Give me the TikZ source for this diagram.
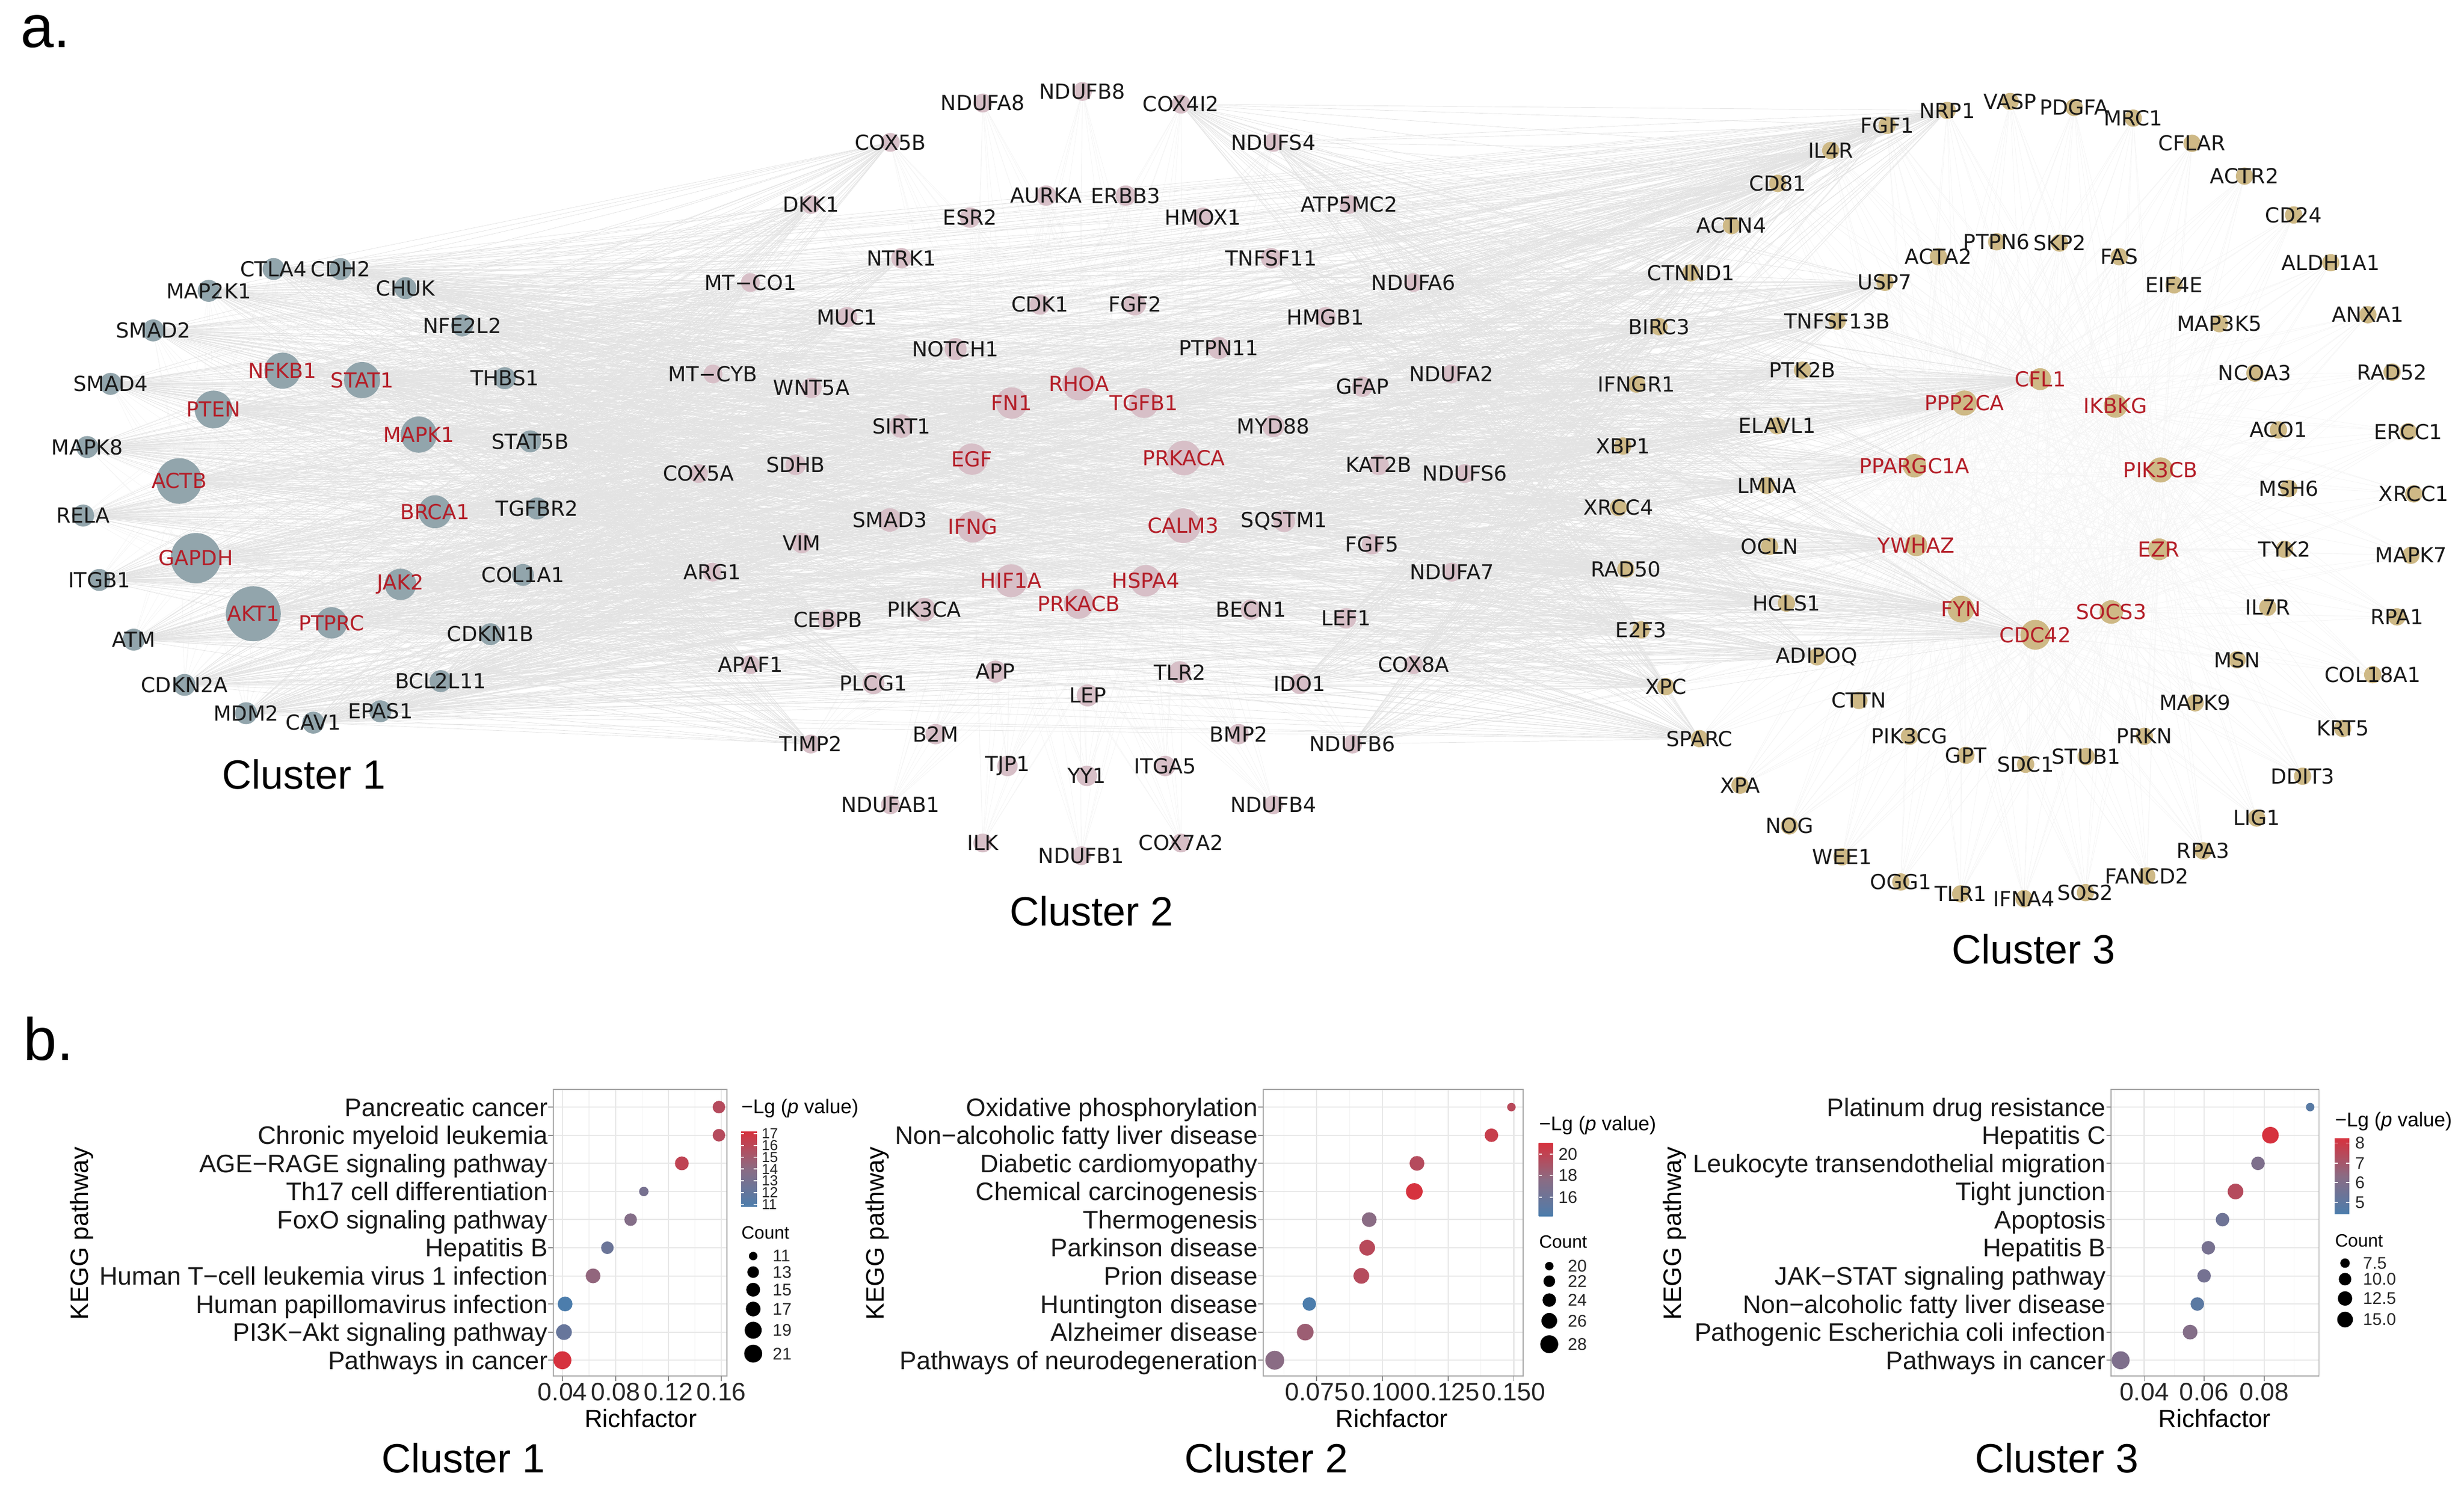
\documentclass[tikz,border=0pt]{standalone}
\usepackage{fontspec}
\setmainfont{Liberation Sans}
\newfontfamily\gfont{DejaVu Sans}
\pgfdeclarelayer{bg}
\pgfdeclarelayer{fg}
\pgfsetlayers{bg,main,fg}
\definecolor{c1col}{RGB}{146,165,172}
\definecolor{c2col}{RGB}{215,191,199}
\definecolor{c3col}{RGB}{206,185,134}
\definecolor{redlab}{RGB}{180,30,40}
\definecolor{lo}{RGB}{76,125,172}
\definecolor{mid}{RGB}{138,108,132}
\definecolor{hi}{RGB}{214,50,62}
\def\uu{0.027691cm}
\tikzset{
 e1/.style={draw=black!11, line width=0.2pt},
 e2/.style={draw=black!4.5, line width=0.18pt},
 c1/.style={circle, fill=c1col, inner sep=0pt, draw=none},
 c2/.style={circle, fill=c2col, inner sep=0pt, draw=none},
 c3/.style={circle, fill=c3col, inner sep=0pt, draw=none},
 glab/.style={font=\gfont\fontsize{10.4}{12}\selectfont, inner sep=0pt, text=black!90},
 rlab/.style={glab, text=redlab},
 ctitle/.style={font=\fontsize{20.5}{24}\selectfont, inner sep=0pt},
 rowlab/.style={anchor=east, font=\fontsize{12.7}{14}\selectfont, inner sep=0pt, text height=9.1pt, text depth=0pt, text=black!90},
 ticklab/.style={font=\fontsize{12.7}{14}\selectfont, inner sep=0pt, text=black!85},
 axlab/.style={font=\fontsize{12.5}{14}\selectfont, inner sep=0pt},
 kegg/.style={font=\fontsize{12.6}{14}\selectfont, rotate=90, inner sep=0pt},
 legt/.style={anchor=west, font=\fontsize{10}{12}\selectfont, inner sep=0pt},
 legc/.style={anchor=west, font=\fontsize{9}{11}\selectfont, inner sep=0pt},
 legn/.style={anchor=west, font=\fontsize{8.5}{10}\selectfont, inner sep=0pt, text=black!85},
 legs/.style={anchor=west, font=\fontsize{7.3}{8}\selectfont, inner sep=0pt, text=black!85},
 gridmaj/.style={draw=black!9, line width=0.6pt},
 gridmin/.style={draw=black!5, line width=0.3pt},
 panelb/.style={draw=black!35, line width=0.5pt},
 tk/.style={draw=black!45, line width=0.5pt},
 wtk/.style={draw=white, line width=0.5pt},
 plabel/.style={font=\fontsize{30}{34}\selectfont, inner sep=0pt},
}
\newcommand\GX[7]{\node[#5,minimum size={2*#4*\uu}] (#1) at (#2,#3) {};\begin{pgfonlayer}{fg}\node[#6] (#1t) at (#2,#3) {#7};\end{pgfonlayer}}
\newcommand\GN[5]{\GX{#1}{#2}{#3}{#4}{#5}{glab}{#1}}
\newcommand\GR[5]{\GX{#1}{#2}{#3}{#4}{#5}{rlab}{#1}}
\newcommand\dotcol[1]{\ifnum#1<50 \edef\tmpn{\the\numexpr2*#1\relax}\colorlet{dc}{mid!\tmpn!lo}\else\edef\tmpn{\the\numexpr2*#1-100\relax}\colorlet{dc}{hi!\tmpn!mid}\fi}
\newcommand\kdot[4]{\dotcol{#4}\fill[dc] (#1,{704.6+17.9*#2}) circle[radius={#3*\uu}];}
\newcommand\kpanel[4]{%
 \fill[white] (#1,693.4) rectangle (#2,875.8);
 \foreach \x in {#4} \draw[gridmin] (\x,693.4) -- (\x,875.8);
 \foreach \x in {#3} \draw[gridmaj] (\x,693.4) -- (\x,875.8);
 \foreach \k in {0,...,9} \draw[gridmaj] (#1,{704.6+17.9*\k}) -- (#2,{704.6+17.9*\k});
 \draw[panelb] (#1,693.4) rectangle (#2,875.8);
 \foreach \x in {#3} \draw[tk] (\x,875.8) -- (\x,879.0);
 \foreach \k in {0,...,9} \draw[tk] ({#1-3.2},{704.6+17.9*\k}) -- (#1,{704.6+17.9*\k});
}
\def\Cone{CTLA4,CDH2,MAP2K1,CHUK,SMAD2,NFE2L2,SMAD4,NFKB1,STAT1,THBS1,PTEN,MAPK8,MAPK1,STAT5B,ACTB,RELA,BRCA1,TGFBR2,GAPDH,ITGB1,JAK2,COL1A1,AKT1,PTPRC,ATM,CDKN1B,CDKN2A,BCL2L11,MDM2,CAV1,EPAS1}
\def\ConeR{NFKB1,STAT1,PTEN,MAPK1,ACTB,BRCA1,GAPDH,JAK2,AKT1,PTPRC}
\def\ConeN{CTLA4,CDH2,MAP2K1,CHUK,SMAD2,NFE2L2,SMAD4,THBS1,MAPK8,STAT5B,RELA,TGFBR2,ITGB1,COL1A1,ATM,CDKN1B,CDKN2A,BCL2L11,MDM2,CAV1,EPAS1}
\def\CtwoL{COX5A,MTCYB,MTCO1,ARG1,APAF1,DKK1,SDHB,WNT5A,VIM,CEBPB,MUC1,TIMP2,COX5B,NTRK1,SIRT1,SMAD3,PLCG1,NOTCH1,EGF,IFNG,FN1,HIF1A,RHOA,PIK3CA}
\def\CtwoR{NDUFA6,NDUFA2,NDUFS6,NDUFA7,COX8A,ATP5MC2,HMGB1,GFAP,KAT2B,FGF5,LEF1,NDUFS4,TNFSF11,MYD88,SQSTM1,IDO1,NDUFB6,PRKACA,CALM3,TGFB1,HSPA4,COX4I2}
\def\CtwoRed{RHOA,FN1,TGFB1,EGF,PRKACA,IFNG,CALM3,HIF1A,HSPA4,PRKACB}
\def\CtwoN{NDUFA8,NDUFB8,COX4I2,COX5B,NDUFS4,DKK1,AURKA,ERBB3,ESR2,HMOX1,ATP5MC2,NTRK1,TNFSF11,MTCO1,CDK1,FGF2,NDUFA6,MUC1,HMGB1,NOTCH1,PTPN11,MTCYB,WNT5A,GFAP,NDUFA2,SIRT1,MYD88,SDHB,KAT2B,NDUFS6,COX5A,SMAD3,SQSTM1,VIM,FGF5,ARG1,NDUFA7,CEBPB,PIK3CA,BECN1,LEF1,APAF1,PLCG1,APP,TLR2,IDO1,COX8A,LEP,TIMP2,B2M,BMP2,NDUFB6,TJP1,YY1,ITGA5,NDUFAB1,NDUFB4,ILK,NDUFB1,COX7A2}
\def\CthreeL{IFNGR1,XBP1,XRCC4,RAD50,E2F3,BIRC3,CTNND1,ACTN4,CD81,IL4R,FGF1,NRP1,XPC,SPARC,ELAVL1,LMNA,OCLN,HCLS1,PTK2B,TNFSF13B,USP7,ADIPOQ,PPARGC1A,YWHAZ,PPP2CA,FYN,CDC42,CFL1}
\def\CthreeRed{CFL1,PPP2CA,IKBKG,PPARGC1A,PIK3CB,YWHAZ,EZR,FYN,SOCS3,CDC42}
\def\CthreeN{FGF1,NRP1,VASP,PDGFA,MRC1,CFLAR,IL4R,ACTR2,CD81,CD24,ACTN4,PTPN6,SKP2,ACTA2,FAS,ALDH1A1,CTNND1,USP7,EIF4E,ANXA1,TNFSF13B,MAP3K5,BIRC3,PTK2B,NCOA3,RAD52,IFNGR1,ELAVL1,ACO1,ERCC1,XBP1,LMNA,MSH6,XRCC1,XRCC4,OCLN,TYK2,MAPK7,RAD50,HCLS1,IL7R,RPA1,E2F3,ADIPOQ,MSN,COL18A1,XPC,CTTN,MAPK9,KRT5,SPARC,PIK3CG,PRKN,GPT,STUB1,SDC1,DDIT3,XPA,LIG1,NOG,RPA3,WEE1,FANCD2,OGG1,TLR1,SOS2,IFNA4}
\begin{document}
\begin{tikzpicture}[x=0.027691cm,y=-0.027691cm]
\begin{pgfonlayer}{bg}
\fill[white] (0,0) rectangle (1568,950.5);
\end{pgfonlayer}
\useasboundingbox (0,0) rectangle (1568,950.5);
% ---------------- Cluster 1
\GN{CTLA4}{174.1}{171.2}{7}{c1}
\GN{CDH2}{216.7}{171.2}{7}{c1}
\GN{MAP2K1}{132.8}{185.1}{7}{c1}
\GN{CHUK}{258.0}{183.4}{7}{c1}
\GN{SMAD2}{97.5}{210.3}{7}{c1}
\GN{NFE2L2}{294.1}{207.1}{7}{c1}
\GN{SMAD4}{70.4}{244.3}{7}{c1}
\GR{NFKB1}{179.8}{235.9}{11.5}{c1}
\GR{STAT1}{230.4}{241.9}{11.5}{c1}
\GN{THBS1}{321.2}{240.7}{7}{c1}
\GR{PTEN}{135.9}{260.6}{12}{c1}
\GN{MAPK8}{55.5}{284.5}{7}{c1}
\GR{MAPK1}{266.5}{276.6}{11.5}{c1}
\GN{STAT5B}{337.4}{280.9}{7}{c1}
\GR{ACTB}{114.0}{306.1}{14.5}{c1}
\GN{RELA}{52.9}{328.1}{7}{c1}
\GR{BRCA1}{276.8}{325.7}{10.5}{c1}
\GN{TGFBR2}{341.8}{323.6}{7}{c1}
\GR{GAPDH}{124.6}{355.2}{16}{c1}
\GN{ITGB1}{63.2}{369.1}{7}{c1}
\GR{JAK2}{254.9}{371.9}{10}{c1}
\GN{COL1A1}{332.8}{365.9}{7}{c1}
\GR{AKT1}{161.2}{390.6}{17.5}{c1}
\GR{PTPRC}{211.0}{396.4}{10}{c1}
\GN{ATM}{85.1}{407.1}{7}{c1}
\GN{CDKN1B}{312.1}{403.6}{7}{c1}
\GN{CDKN2A}{117.4}{435.9}{7}{c1}
\GN{BCL2L11}{280.4}{433.5}{7}{c1}
\GN{MDM2}{156.6}{453.9}{7}{c1}
\GN{CAV1}{199.4}{459.9}{7}{c1}
\GN{EPAS1}{242.0}{452.7}{7}{c1}
\node[ctitle] (title1) at (193.5,492.9) {Cluster 1};
% ---------------- Cluster 2
\GN{NDUFA8}{625.4}{65.6}{6}{c2}
\GN{NDUFB8}{688.8}{58.2}{6}{c2}
\GN{COX4I2}{751.5}{66.3}{6}{c2}
\GN{COX5B}{566.6}{90.6}{6}{c2}
\GN{NDUFS4}{810.3}{90.6}{6}{c2}
\GN{DKK1}{516.0}{130.1}{6}{c2}
\GN{AURKA}{665.7}{124.5}{6.5}{c2}
\GN{ERBB3}{716.4}{124.5}{6.5}{c2}
\GN{ESR2}{617.3}{138.5}{6.5}{c2}
\GN{HMOX1}{765.4}{138.5}{6.5}{c2}
\GN{ATP5MC2}{858.6}{130.1}{6}{c2}
\GN{NTRK1}{573.6}{164.3}{6.5}{c2}
\GN{TNFSF11}{808.9}{164.3}{6.5}{c2}
\GX{MTCO1}{477.5}{179.8}{6}{c2}{glab}{MT−CO1}
\GN{CDK1}{661.8}{193.8}{6.5}{c2}
\GN{FGF2}{722.2}{193.8}{7}{c2}
\GN{NDUFA6}{899.5}{179.8}{6}{c2}
\GN{MUC1}{539.0}{201.9}{6.5}{c2}
\GN{HMGB1}{843.5}{201.9}{6.5}{c2}
\GN{NOTCH1}{608.1}{222.2}{7}{c2}
\GN{PTPN11}{775.7}{221.5}{7}{c2}
\GX{MTCYB}{453.7}{238.0}{6}{c2}{glab}{MT−CYB}
\GN{WNT5A}{516.4}{246.9}{6.5}{c2}
\GR{RHOA}{686.5}{244.3}{10.5}{c2}
\GN{GFAP}{866.9}{246.1}{6.5}{c2}
\GN{NDUFA2}{923.5}{238.0}{6}{c2}
\GR{FN1}{643.8}{256.5}{10}{c2}
\GR{TGFB1}{727.9}{256.5}{9.5}{c2}
\GN{SIRT1}{573.6}{271.2}{7.5}{c2}
\GN{MYD88}{810.3}{271.2}{7}{c2}
\GN{SDHB}{506.3}{295.9}{6.5}{c2}
\GR{EGF}{618.5}{292.2}{10}{c2}
\GR{PRKACA}{753.3}{291.5}{11}{c2}
\GN{KAT2B}{877.3}{295.9}{6.5}{c2}
\GN{NDUFS6}{932.2}{301.4}{6}{c2}
\GN{COX5A}{444.5}{301.4}{6}{c2}
\GN{SMAD3}{566.2}{330.9}{7.5}{c2}
\GR{IFNG}{619.0}{335.3}{10}{c2}
\GR{CALM3}{752.9}{334.6}{11}{c2}
\GN{SQSTM1}{817.2}{331.6}{7}{c2}
\GN{VIM}{510.2}{345.6}{6.5}{c2}
\GN{FGF5}{873.1}{346.4}{6.5}{c2}
\GN{ARG1}{453.3}{364.1}{6}{c2}
\GR{HIF1A}{643.4}{369.6}{10.5}{c2}
\GR{HSPA4}{729.1}{369.6}{10}{c2}
\GN{NDUFA7}{923.9}{364.1}{6}{c2}
\GR{PRKACB}{686.5}{384.3}{9.5}{c2}
\GN{CEBPB}{526.8}{394.3}{6.5}{c2}
\GN{PIK3CA}{588.1}{388.0}{7.5}{c2}
\GN{BECN1}{796.0}{388.0}{6.5}{c2}
\GN{LEF1}{856.6}{393.5}{6.5}{c2}
\GN{APAF1}{477.5}{423.0}{6}{c2}
\GN{PLCG1}{555.8}{434.8}{7}{c2}
\GN{APP}{633.5}{427.4}{7}{c2}
\GN{TLR2}{750.8}{427.8}{7}{c2}
\GN{IDO1}{827.1}{435.2}{6.5}{c2}
\GN{COX8A}{899.5}{423.0}{6}{c2}
\GN{LEP}{692.2}{442.6}{7}{c2}
\GN{TIMP2}{516.0}{473.5}{6}{c2}
\GN{B2M}{595.4}{467.2}{6.5}{c2}
\GN{BMP2}{788.2}{467.2}{6.5}{c2}
\GN{NDUFB6}{860.7}{473.5}{6}{c2}
\GN{TJP1}{641.1}{487.5}{6.5}{c2}
\GN{YY1}{691.6}{493.8}{6.5}{c2}
\GN{ITGA5}{741.5}{487.5}{6.5}{c2}
\GN{NDUFAB1}{566.6}{512.2}{6}{c2}
\GN{NDUFB4}{810.3}{512.2}{6}{c2}
\GN{ILK}{625.4}{536.5}{6}{c2}
\GN{NDUFB1}{688.1}{544.6}{6}{c2}
\GN{COX7A2}{751.5}{536.5}{6}{c2}
\node[ctitle] (title2) at (694.5,579.7) {Cluster 2};
% ---------------- Cluster 3
\GN{FGF1}{1200.9}{79.8}{5.5}{c3}
\GN{NRP1}{1239.1}{70.3}{5.5}{c3}
\GN{VASP}{1279.2}{64.6}{5.5}{c3}
\GN{PDGFA}{1319.9}{68.4}{5.5}{c3}
\GN{MRC1}{1357.5}{75.2}{5.5}{c3}
\GN{CFLAR}{1394.9}{91.2}{5.5}{c3}
\GN{IL4R}{1165.0}{95.8}{5.5}{c3}
\GN{ACTR2}{1428.3}{112.1}{5.5}{c3}
\GN{CD81}{1131.3}{116.7}{5.5}{c3}
\GN{CD24}{1459.6}{136.8}{5.5}{c3}
\GN{ACTN4}{1101.8}{143.6}{5.5}{c3}
\GN{PTPN6}{1270.6}{153.9}{5.5}{c3}
\GN{SKP2}{1310.6}{154.7}{5.5}{c3}
\GN{ACTA2}{1233.5}{163.4}{5.5}{c3}
\GN{FAS}{1348.6}{163.4}{5.5}{c3}
\GN{ALDH1A1}{1483.2}{167.2}{5.5}{c3}
\GN{CTNND1}{1076.0}{173.7}{5.5}{c3}
\GN{USP7}{1199.5}{179.7}{5.5}{c3}
\GN{EIF4E}{1383.5}{181.3}{5.5}{c3}
\GN{ANXA1}{1506.8}{200.3}{5.5}{c3}
\GN{TNFSF13B}{1169.1}{204.4}{5.5}{c3}
\GN{MAP3K5}{1412.3}{206.0}{5.5}{c3}
\GN{BIRC3}{1055.7}{207.9}{5.5}{c3}
\GN{PTK2B}{1147.0}{235.6}{5.5}{c3}
\GN{NCOA3}{1434.9}{237.5}{5.5}{c3}
\GN{RAD52}{1522.2}{236.8}{5.5}{c3}
\GR{CFL1}{1298.3}{241.3}{7}{c3}
\GN{IFNGR1}{1041.4}{244.4}{5.5}{c3}
\GR{PPP2CA}{1250.1}{256.5}{8}{c3}
\GR{IKBKG}{1346.2}{258.4}{7.5}{c3}
\GN{ELAVL1}{1130.9}{271.0}{5.5}{c3}
\GN{ACO1}{1449.9}{273.6}{5.5}{c3}
\GN{ERCC1}{1532.5}{274.8}{5.5}{c3}
\GN{XBP1}{1032.7}{283.9}{5.5}{c3}
\GR{PPARGC1A}{1218.3}{296.4}{7.5}{c3}
\GR{PIK3CB}{1374.9}{299.1}{8}{c3}
\GN{LMNA}{1124.3}{309.0}{5.5}{c3}
\GN{MSH6}{1456.5}{310.9}{5.5}{c3}
\GN{XRCC1}{1536.0}{314.3}{5.5}{c3}
\GN{XRCC4}{1029.9}{323.0}{5.5}{c3}
\GN{OCLN}{1126.1}{347.7}{5.5}{c3}
\GR{YWHAZ}{1219.4}{347.0}{7}{c3}
\GR{EZR}{1373.9}{349.6}{7}{c3}
\GN{TYK2}{1453.8}{349.6}{5.5}{c3}
\GN{MAPK7}{1534.2}{353.4}{5.5}{c3}
\GN{RAD50}{1034.6}{362.2}{5.5}{c3}
\GN{HCLS1}{1136.8}{383.8}{5.5}{c3}
\GR{FYN}{1247.9}{387.6}{8.5}{c3}
\GR{SOCS3}{1343.5}{389.5}{7.5}{c3}
\GN{IL7R}{1443.1}{386.5}{5.5}{c3}
\GN{RPA1}{1525.3}{392.6}{5.5}{c3}
\GN{E2F3}{1044.3}{400.9}{5.5}{c3}
\GR{CDC42}{1295.2}{404.0}{9.5}{c3}
\GN{ADIPOQ}{1156.2}{418.0}{5.5}{c3}
\GN{MSN}{1423.6}{419.9}{5.5}{c3}
\GN{COL18A1}{1509.9}{429.4}{5.5}{c3}
\GN{XPC}{1060.0}{437.0}{5.5}{c3}
\GN{CTTN}{1182.9}{445.8}{5.5}{c3}
\GN{MAPK9}{1396.9}{447.3}{5.5}{c3}
\GN{KRT5}{1490.8}{463.6}{5.5}{c3}
\GN{SPARC}{1081.5}{470.1}{5.5}{c3}
\GN{PIK3CG}{1215.1}{468.6}{5.5}{c3}
\GN{PRKN}{1364.6}{468.6}{5.5}{c3}
\GN{GPT}{1251.0}{480.7}{5.5}{c3}
\GN{STUB1}{1327.5}{481.5}{5.5}{c3}
\GN{SDC1}{1289.0}{486.4}{5.5}{c3}
\GN{DDIT3}{1465.3}{494.0}{5.5}{c3}
\GN{XPA}{1107.3}{499.7}{5.5}{c3}
\GN{LIG1}{1436.0}{520.6}{5.5}{c3}
\GN{NOG}{1138.7}{525.6}{5.5}{c3}
\GN{RPA3}{1402.0}{541.5}{5.5}{c3}
\GN{WEE1}{1172.2}{545.3}{5.5}{c3}
\GN{FANCD2}{1366.1}{557.5}{5.5}{c3}
\GN{OGG1}{1209.6}{561.3}{5.5}{c3}
\GN{TLR1}{1247.7}{568.9}{5.5}{c3}
\GN{SOS2}{1327.1}{568.1}{5.5}{c3}
\GN{IFNA4}{1288.0}{571.9}{5.5}{c3}
\node[ctitle] (title3) at (1294.2,604.2) {Cluster 3};
% ---------------- edges
\begin{pgfonlayer}{bg}
\foreach \a in \CtwoRed {\foreach \b in \CtwoN {\draw[e2] (\a) -- (\b);}}
\foreach \a in \CthreeRed {\foreach \b in \CthreeN {\draw[e2] (\a) -- (\b);}}
\foreach \a in \ConeR {\foreach \b in \ConeN {\draw[e2] (\a) -- (\b);}}
\foreach \a in \Cone {\foreach \b in \CtwoL {\draw[e1] (\a) -- (\b);}}
\foreach \a in \Cone {\foreach \b in \CthreeL {\draw[e1] (\a) -- (\b);}}
\foreach \a in \CtwoR {\foreach \b in \CthreeL {\draw[e1] (\a) -- (\b);}}
\end{pgfonlayer}
% ---------------- panel labels
\node[plabel] (pa) at (29,20) {a.};
\node[plabel] (pb) at (31,661) {b.};
% ---------------- chart 1
\kpanel{352.2}{462.5}{358.0,391.7,425.4,459.1}{374.85,408.55,442.25}
\foreach \t [count=\i from 0] in {Pancreatic cancer,Chronic myeloid leukemia,AGE−RAGE signaling pathway,Th17 cell differentiation,FoxO signaling pathway,Hepatitis B,Human T−cell leukemia virus 1 infection,Human papillomavirus infection,PI3K−Akt signaling pathway,Pathways in cancer}
  \node[rowlab] (aL\i) at (348.8,{704.6+17.9*\i}) {\t};
\foreach \x/\t [count=\i] in {358.0/0.04,391.7/0.08,425.4/0.12,459.1/0.16}
  \node[ticklab] (aX\i) at (\x,886) {\t};
\kdot{457.5}{0}{4.0}{78}
\kdot{457.5}{1}{4.0}{78}
\kdot{433.9}{2}{4.4}{85}
\kdot{409.7}{3}{3.0}{35}
\kdot{401.3}{4}{4.0}{45}
\kdot{386.5}{5}{4.0}{25}
\kdot{377.4}{6}{4.7}{55}
\kdot{359.6}{7}{4.7}{0}
\kdot{358.9}{8}{5.0}{22}
\kdot{357.9}{9}{5.7}{100}
\node[axlab] (aR) at (407.7,902.7) {Richfactor};
\node[kegg] (aK) at (52.2,785) {KEGG pathway};
\node[legt] (aLT) at (471.6,705.5) {−Lg (\textit{p} value)};
\shade[bottom color=lo, top color=hi, middle color=mid] (471.6,720.1) rectangle (481.7,768.0);
\foreach \y/\t [count=\i] in {721.5/17,729/16,736.5/15,744/14,751.5/13,759/12,766.5/11}
  {\draw[wtk] (471.6,\y) -- (473.6,\y); \draw[wtk] (479.7,\y) -- (481.7,\y);
   \node[legs] (aB\i) at (484.5,\y) {\t};}
\node[legc] (aCT) at (471.6,784.4) {Count};
\foreach \y/\r/\t [count=\i] in {799.4/2.7/11,809.6/3.7/13,820.8/4.4/15,833.1/4.7/17,846.6/5.4/19,861.5/5.7/21}
  {\fill[black] (479.3,\y) circle[radius={\r*\uu}]; \node[legn] (aC\i) at (491.5,\y) {\t};}
% ---------------- chart 2
\kpanel{803.9}{969.2}{837.9,879.7,921.5,963.3}{817.0,858.8,900.6,942.4}
\foreach \t [count=\i from 0] in {Oxidative phosphorylation,Non−alcoholic fatty liver disease,Diabetic cardiomyopathy,Chemical carcinogenesis,Thermogenesis,Parkinson disease,Prion disease,Huntington disease,Alzheimer disease,Pathways of neurodegeneration}
  \node[rowlab] (bL\i) at (800.5,{704.6+17.9*\i}) {\t};
\foreach \x/\t [count=\i] in {837.9/0.075,879.7/0.100,921.5/0.125,963.3/0.150}
  \node[ticklab] (bX\i) at (\x,886) {\t};
\kdot{961.8}{0}{2.7}{80}
\kdot{949.1}{1}{4.3}{90}
\kdot{901.7}{2}{4.7}{78}
\kdot{900.0}{3}{5.3}{100}
\kdot{871.3}{4}{4.7}{50}
\kdot{870.0}{5}{5.0}{80}
\kdot{866.3}{6}{5.0}{78}
\kdot{833.2}{7}{4.3}{0}
\kdot{830.6}{8}{5.3}{62}
\kdot{811.2}{9}{6.0}{50}
\node[axlab] (bR) at (885.7,902.7) {Richfactor};
\node[kegg] (bK) at (558.4,785) {KEGG pathway};
\node[legt] (bLT) at (979.2,716.3) {−Lg (\textit{p} value)};
\shade[bottom color=lo, top color=hi, middle color=mid] (979.2,727.5) rectangle (988.2,774.0);
\foreach \y/\t [count=\i] in {734.6/20,748.1/18,762.0/16}
  {\draw[wtk] (979.2,\y) -- (981.2,\y); \draw[wtk] (986.2,\y) -- (988.2,\y);
   \node[legn] (bB\i) at (991.5,\y) {\t};}
\node[legc] (bCT) at (979.2,790.4) {Count};
\foreach \y/\r/\t [count=\i] in {805.8/2.7/20,815.4/3.7/22,827.4/4.3/24,840.6/5.0/26,855.5/5.7/28}
  {\fill[black] (985.9,\y) circle[radius={\r*\uu}]; \node[legn] (bC\i) at (997.5,\y) {\t};}
% ---------------- chart 3
\kpanel{1343.5}{1475.7}{1364.5,1402.6,1440.8}{1345.4,1383.6,1421.7,1459.9}
\foreach \t [count=\i from 0] in {Platinum drug resistance,Hepatitis C,Leukocyte transendothelial migration,Tight junction,Apoptosis,Hepatitis B,JAK−STAT signaling pathway,Non−alcoholic fatty liver disease,Pathogenic Escherichia coli infection,Pathways in cancer}
  \node[rowlab] (cL\i) at (1340.2,{704.6+17.9*\i}) {\t};
\foreach \x/\t [count=\i] in {1364.5/0.04,1402.6/0.06,1440.8/0.08}
  \node[ticklab] (cX\i) at (\x,886) {\t};
\kdot{1470.1}{0}{2.7}{10}
\kdot{1444.8}{1}{5.3}{100}
\kdot{1436.9}{2}{4.3}{40}
\kdot{1422.6}{3}{5.0}{78}
\kdot{1414.3}{4}{4.3}{28}
\kdot{1405.3}{5}{4.3}{35}
\kdot{1402.6}{6}{4.3}{33}
\kdot{1398.3}{7}{4.3}{12}
\kdot{1393.7}{8}{4.7}{45}
\kdot{1349.5}{9}{5.7}{40}
\node[axlab] (cR) at (1409.3,902.7) {Richfactor};
\node[kegg] (cK) at (1065.6,785) {KEGG pathway};
\node[legt] (cLT) at (1485.7,713.6) {−Lg (\textit{p} value)};
\shade[bottom color=lo, top color=hi, middle color=mid] (1485.7,724.6) rectangle (1495.0,772.5);
\foreach \y/\t [count=\i] in {727.5/8,740.3/7,752.6/6,765.4/5}
  {\draw[wtk] (1485.7,\y) -- (1487.7,\y); \draw[wtk] (1493.0,\y) -- (1495.0,\y);
   \node[legn] (cB\i) at (1498.5,\y) {\t};}
\node[legc] (cCT) at (1485.7,789.7) {Count};
\foreach \y/\r/\t [count=\i] in {803.9/3.0/7.5,814.1/4.0/10.0,826.4/4.6/12.5,839.8/5.0/15.0}
  {\fill[black] (1492.3,\y) circle[radius={\r*\uu}]; \node[legn] (cC\i) at (1503.5,\y) {\t};}
% ---------------- bottom titles
\node[ctitle] (bt1) at (295,928) {Cluster 1};
\node[ctitle] (bt2) at (806,928) {Cluster 2};
\node[ctitle] (bt3) at (1309,928) {Cluster 3};
\end{tikzpicture}
\end{document}
